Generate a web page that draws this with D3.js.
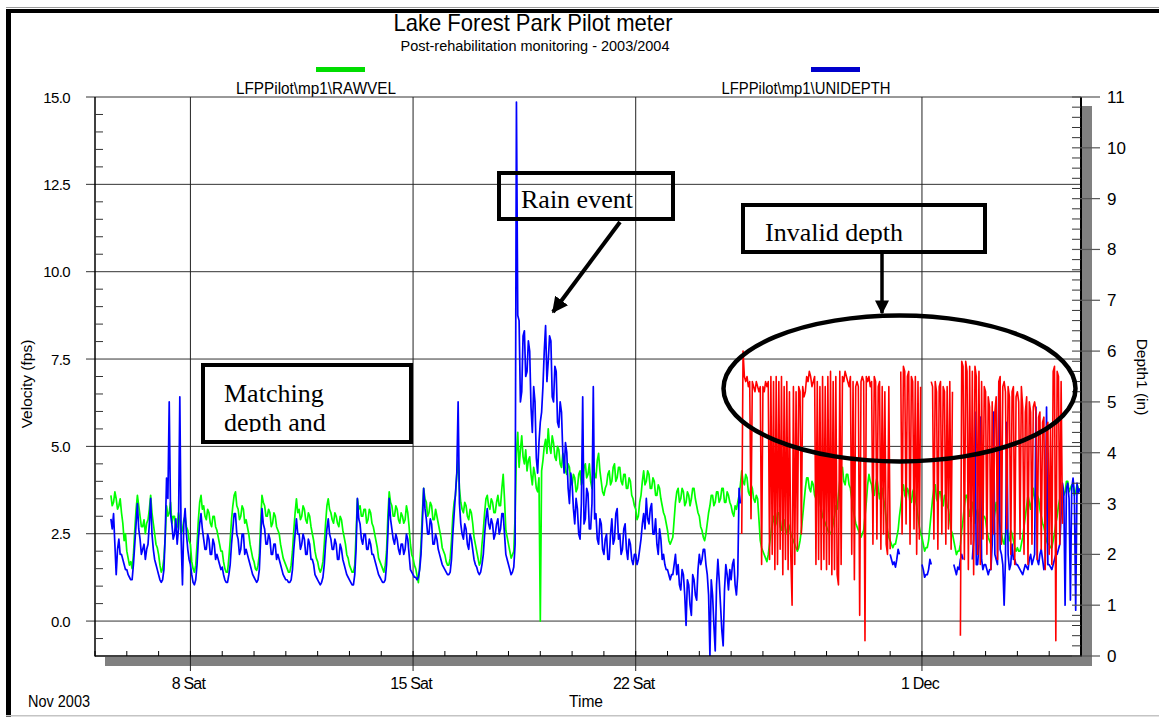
<!DOCTYPE html>
<html>
<head>
<meta charset="utf-8">
<script src="https://cdn.jsdelivr.net/npm/d3@7"></script>
<style>
  body { margin: 0; background: #fff; }
  svg { display: block; }
  text { font-family: "Liberation Sans", Arial, sans-serif; fill: #000; }
  .note { font-family: "Liberation Serif", "Times New Roman", serif; font-size: 26px; }
</style>
</head>
<body>
<svg id="chart" width="1159" height="717"></svg>
<script>
// ---- series: hourly samples starting 5 Nov 2003 12:00 ----
const sampleStart = Date.UTC(2003, 10, 5, 12);
const sampleStepHours = 1;
const _ = null;

// RAWVEL, velocity in ft/s (one row per day, 00:00..23:00)
const velocity = [
  3.6, 3.3, 3.4, 3.7, 3.5, 3.2, 3.3, 3.5, 3.1, 2.8, 2.3, 2.5,                                            // 5 Nov 12-23
  2.0, 1.8, 1.6, 1.7, 1.5, 1.9, 2.6, 3.2, 3.6, 3.3, 3.0, 2.7, 2.7, 2.9, 2.5, 2.8, 2.9, 3.2, 3.6, 3.1, 2.8, 2.5, 2.2, 2.1, // 6 Nov
  1.9, 1.6, 1.4, 1.5, 1.8, 2.4, 3.3, 3.0, 3.1, 3.4, 2.8, 3.0, 3.0, 2.6, 2.7, 3.1, 2.9, 2.5, 2.6, 2.9, 3.0, 2.7, 2.6, 2.3, // 7 Nov
  2.2, 1.7, 1.5, 1.4, 1.6, 2.2, 2.9, 3.4, 3.6, 3.2, 3.3, 3.0, 2.9, 3.2, 3.1, 2.8, 2.7, 3.0, 3.0, 2.7, 2.6, 2.4, 2.2, 2.0, // 8 Nov
  2.0, 1.7, 1.5, 1.4, 1.4, 1.8, 2.3, 2.9, 3.3, 3.6, 3.7, 3.3, 3.2, 2.9, 3.0, 3.3, 3.2, 2.8, 2.9, 2.7, 2.5, 2.2, 2.0, 1.8, // 9 Nov
  1.7, 1.5, 1.45, 1.6, 1.9, 2.8, 3.6, 3.4, 3.3, 3.0, 3.0, 3.2, 3.1, 2.7, 2.8, 3.1, 3.0, 2.7, 2.6, 2.5, 2.2, 2.0, 1.8, 1.7, // 10 Nov
  1.6, 1.5, 1.4, 1.4, 1.6, 2.0, 2.6, 3.1, 3.5, 3.1, 3.2, 2.9, 3.0, 3.3, 3.2, 2.9, 2.8, 3.1, 3.0, 2.7, 2.5, 2.3, 2.0, 1.8, // 11 Nov
  1.7, 1.5, 1.4, 1.5, 1.7, 2.2, 2.8, 3.3, 3.5, 3.2, 3.1, 2.9, 2.8, 3.1, 3.0, 2.8, 2.7, 3.0, 2.9, 2.6, 2.4, 2.2, 1.9, 1.8, // 12 Nov
  1.6, 1.5, 1.4, 1.4, 1.6, 2.5, 3.5, 3.2, 3.3, 3.0, 3.0, 3.2, 3.2, 2.8, 2.9, 3.2, 3.1, 2.8, 2.7, 2.5, 2.3, 2.1, 1.8, 1.7, // 13 Nov
  1.6, 1.5, 1.4, 1.6, 2.0, 3.0, 3.7, 3.4, 3.3, 3.0, 3.0, 3.3, 3.2, 2.9, 2.8, 3.1, 3.0, 2.8, 2.9, 3.3, 3.1, 2.7, 2.2, 1.9, // 14 Nov
  1.8, 1.6, 1.5, 1.3, 1.1, 1.6, 2.2, 3.1, 3.8, 3.5, 3.4, 3.0, 3.1, 3.4, 3.3, 2.9, 2.9, 3.2, 3.0, 2.8, 2.6, 2.4, 2.1, 2.0, // 15 Nov
  1.9, 1.7, 1.6, 1.6, 1.8, 2.3, 3.0, 3.4, 3.6, 4.2, 4.6, 3.8, 3.4, 3.2, 3.1, 3.4, 3.3, 3.0, 2.9, 3.2, 3.1, 2.8, 2.4, 2.2, // 16 Nov
  2.0, 1.8, 1.6, 1.7, 2.2, 2.6, 3.1, 3.5, 3.6, 3.3, 3.2, 3.5, 3.4, 3.1, 3.1, 3.4, 3.6, 3.3, 3.3, 3.8, 4.2, 3.5, 2.6, 2.4, // 17 Nov
  2.2, 2.0, 1.8, 1.9, 2.0, 3.0, 4.8, 5.4, 4.4, 4.9, 5.3, 4.7, 4.5, 4.9, 4.3, 4.6, 4.7, 4.2, 3.9, 4.4, 4.2, 3.8, 3.7, 4.1, // 18 Nov
  0.0, 4.3, 4.6, 5.0, 5.2, 4.8, 5.5, 5.0, 4.8, 5.3, 5.1, 4.7, 4.6, 5.0, 4.9, 4.5, 4.4, 4.8, 4.7, 4.3, 4.2, 4.5, 4.4, 4.0, // 19 Nov
  3.9, 4.2, 4.1, 3.7, 3.8, 4.2, 4.3, 3.9, 4.0, 4.4, 4.5, 4.1, 4.2, 4.5, 4.0, 3.8, 4.4, 4.2, 4.1, 4.6, 4.8, 4.3, 4.0, 3.7, // 20 Nov
  3.6, 3.8, 3.9, 4.2, 4.3, 3.9, 4.0, 4.4, 4.5, 4.0, 4.1, 4.4, 4.4, 4.0, 3.9, 4.2, 4.2, 3.8, 3.8, 4.1, 4.0, 3.6, 3.5, 3.3, // 21 Nov
  3.2, 2.9, 3.0, 3.4, 3.6, 4.0, 4.3, 3.9, 4.0, 4.3, 4.2, 3.8, 3.8, 4.1, 4.0, 3.6, 3.6, 3.9, 3.8, 3.5, 3.3, 3.1, 3.0, 2.8, // 22 Nov
  2.6, 2.3, 2.2, 2.3, 2.4, 2.9, 3.4, 3.7, 3.8, 3.4, 3.5, 3.8, 3.7, 3.3, 3.4, 3.7, 3.6, 3.3, 3.5, 3.8, 3.8, 3.5, 3.3, 3.1, // 23 Nov
  3.0, 2.7, 2.6, 2.4, 2.3, 2.5, 2.8, 3.1, 3.3, 3.6, 3.6, 3.3, 3.4, 3.7, 3.7, 3.4, 3.5, 3.8, 3.8, 3.4, 3.4, 3.7, 3.6, 3.4, // 24 Nov
  3.3, 3.1, 3.0, 3.3, 3.2, 3.4, 3.6, 3.9, 4.3, 4.0, 3.9, 4.2, 4.1, 3.7, 3.6, 3.9, 3.8, 3.5, 3.4, 3.6, 3.5, 2.9, 2.3, 2.1, // 25 Nov
  2.0, 1.9, 1.8, 1.7, 1.9, 2.2, 2.5, 2.8, 3.0, 2.7, 2.8, 3.1, 3.1, 2.7, 2.6, 2.9, 2.9, 2.6, 2.5, 2.8, 2.7, 2.5, 2.4, 2.3, // 26 Nov
  2.2, 2.1, 2.0, 2.1, 2.3, 2.6, 3.0, 3.4, 3.8, 4.1, 4.1, 3.8, 3.7, 4.0, 3.9, 3.6, 3.5, 3.8, 3.7, 3.4, 3.2, 3.0, 2.9, 2.8, // 27 Nov
  2.7, 2.6, 2.5, 2.5, 2.6, 2.8, 3.0, 3.3, 3.2, 3.6, 4.0, 4.3, 4.4, 4.0, 3.9, 4.2, 4.2, 3.9, 3.8, 3.5, 3.2, 3.0, 2.8, 2.7, // 28 Nov
  2.6, 2.5, 2.4, 2.5, 2.6, 3.0, 3.4, 3.9, 4.2, 4.0, 3.9, 3.6, 3.6, 3.9, 4.1, 3.8, 3.5, 3.7, 3.8, 3.5, 3.3, 2.9, 2.6, 2.4, // 29 Nov
  2.3, 2.2, 2.1, 2.2, 2.2, 2.4, 2.6, 3.0, 3.3, 3.7, 3.9, 3.6, 3.5, 3.8, 3.7, 3.4, 3.4, 3.7, 3.8, 3.5, 3.3, 3.0, 2.7, 2.5, // 30 Nov
  2.4, 2.2, 2.0, 2.1, 2.1, 2.3, 2.7, 3.1, 3.5, 3.8, 3.9, 3.5, 3.4, 3.7, 3.7, 3.4, 3.3, 3.6, 3.6, 3.3, 3.2, 2.9, 2.6, 2.5, // 1 Dec
  2.3, 2.1, 1.9, 2.0, 2.0, 2.2, 2.6, 2.9, 3.3, 3.6, 3.6, 3.2, 3.0, 3.3, 3.4, 3.0, 2.8, 3.1, 3.2, 2.9, 2.7, 2.9, 3.0, 3.0, // 2 Dec
  2.9, 2.6, 2.4, 2.3, 2.2, 2.4, 2.8, 3.1, 3.4, 3.1, 2.9, 2.7, 2.5, 2.3, 2.2, 2.5, 2.6, 2.4, 2.3, 2.6, 2.5, 2.3, 2.1, 2.0, // 3 Dec
  2.1, 2.0, 2.0, 2.2, 2.4, 2.7, 3.0, 3.3, 3.6, 3.4, 3.2, 3.5, 3.8, 3.5, 3.3, 3.6, 3.5, 3.2, 3.0, 2.8, 2.7, 2.5, 2.3, 2.2, // 4 Dec
  2.2, 2.1, 2.1, 2.3, 2.5, 2.8, 3.0, 3.3, 3.5, 3.7, 3.9, 3.6, 3.7, 4.0, 4.0, 3.7, 3.8, 3.9, 3.9, 3.6, 3.7, 3.9, 3.8, 3.7  // 5 Dec
];

// UNIDEPTH, depth in inches (null = reading rejected)
const depth = [
  2.7, 2.5, 2.8, 2.2, 1.6, 2.1, 2.3, 2.0, 2.0, 1.9, 1.8, 1.7,                                            // 5 Nov 12-23
  1.7, 1.6, 1.55, 1.5, 1.5, 1.8, 2.2, 2.6, 3.0, 2.5, 2.3, 2.0, 2.1, 2.2, 1.9, 2.1, 2.2, 2.6, 3.1, 2.4, 2.1, 1.9, 1.8, 1.7, // 6 Nov
  1.6, 1.5, 1.45, 1.5, 1.7, 2.4, 3.5, 3.1, 5.0, 2.8, 2.6, 2.3, 2.4, 2.7, 2.2, 2.5, 5.1, 2.3, 1.4, 2.6, 2.9, 2.4, 2.1, 1.9, // 7 Nov
  1.8, 1.6, 1.45, 1.4, 1.5, 1.8, 2.3, 2.6, 2.8, 2.5, 2.3, 2.1, 2.1, 2.4, 2.3, 2.0, 2.0, 2.3, 2.2, 1.9, 2.0, 1.9, 1.8, 1.7, // 8 Nov
  1.75, 1.6, 1.5, 1.45, 1.45, 1.6, 1.8, 2.2, 2.5, 2.8, 2.8, 2.4, 2.3, 2.0, 2.1, 2.4, 2.4, 2.0, 2.1, 2.0, 1.9, 1.8, 1.7, 1.6, // 9 Nov
  1.55, 1.5, 1.45, 1.5, 1.7, 2.3, 2.9, 2.6, 2.5, 2.2, 2.2, 2.4, 2.3, 2.0, 2.0, 2.2, 2.2, 1.9, 2.0, 1.9, 1.8, 1.7, 1.6, 1.55, // 10 Nov
  1.5, 1.5, 1.45, 1.45, 1.5, 1.7, 2.1, 2.4, 2.7, 2.4, 2.4, 2.1, 2.2, 2.4, 2.3, 2.0, 2.0, 2.3, 2.2, 1.9, 1.9, 1.8, 1.6, 1.55, // 11 Nov
  1.5, 1.45, 1.4, 1.45, 1.55, 1.8, 2.2, 2.5, 2.7, 2.4, 2.3, 2.1, 2.1, 2.3, 2.2, 1.9, 1.9, 2.2, 2.1, 1.9, 1.8, 1.7, 1.6, 1.55, // 12 Nov
  1.5, 1.45, 1.4, 1.4, 1.6, 2.1, 3.1, 2.7, 2.6, 2.3, 2.2, 2.4, 2.4, 2.1, 2.1, 2.3, 2.2, 2.0, 2.0, 1.9, 1.8, 1.7, 1.6, 1.55, // 13 Nov
  1.5, 1.45, 1.45, 1.5, 1.8, 2.4, 3.1, 2.7, 2.5, 2.3, 2.2, 2.4, 2.3, 2.1, 2.0, 2.2, 2.2, 2.0, 2.1, 2.4, 2.3, 2.0, 1.7, 1.65, // 14 Nov
  1.6, 1.55, 1.55, 1.5, 1.55, 1.7, 2.0, 2.6, 3.3, 2.9, 2.7, 2.4, 2.4, 2.7, 2.6, 2.2, 2.2, 2.4, 2.3, 2.1, 2.0, 1.9, 1.8, 1.75, // 15 Nov
  1.7, 1.65, 1.6, 1.6, 1.65, 1.9, 2.4, 2.8, 3.2, 3.6, 5.0, 3.0, 2.6, 2.4, 2.3, 2.6, 2.5, 2.2, 2.1, 2.4, 2.3, 2.1, 1.9, 1.8, // 16 Nov
  1.75, 1.65, 1.6, 1.65, 1.8, 2.0, 2.4, 2.7, 2.9, 2.6, 2.5, 2.7, 2.6, 2.3, 2.4, 2.6, 2.7, 2.4, 2.5, 2.8, 2.8, 2.4, 2.0, 1.9, // 17 Nov
  1.8, 1.7, 1.6, 1.65, 1.75, 2.2, 10.9, 6.7, 6.6, 5.0, 5.2, 6.3, 6.4, 5.5, 5.6, 6.2, 6.0, 4.9, 4.4, 5.3, 5.0, 3.9, 3.6, 4.2, // 18 Nov
  4.6, 4.8, 5.3, 6.0, 6.5, 5.4, 5.8, 6.3, 6.2, 5.1, 5.0, 5.7, 5.6, 4.6, 4.5, 5.0, 4.8, 4.0, 3.6, 4.2, 4.0, 3.3, 3.0, 3.6, // 19 Nov
  3.4, 2.9, 2.6, 3.1, 2.9, 2.4, 2.3, 3.0, 5.1, 2.6, 2.7, 3.3, 3.2, 2.5, 2.5, 3.0, 5.3, 2.7, 2.8, 2.3, 2.2, 2.7, 2.6, 2.1, // 20 Nov
  2.0, 2.3, 2.4, 1.9, 1.9, 2.4, 2.7, 2.2, 2.3, 2.8, 2.9, 2.3, 2.4, 2.0, 2.1, 2.5, 2.6, 2.1, 1.9, 2.3, 2.2, 1.9, 1.8, 2.0, // 21 Nov
  2.0, 1.8, 1.9, 2.1, 2.3, 2.6, 2.8, 2.5, 3.1, 2.7, 2.6, 2.9, 3.0, 2.4, 2.4, 2.7, 2.2, 2.0, 2.5, 2.3, 1.9, 2.0, 1.8, 1.7, // 22 Nov
  1.7, 1.6, 1.5, 1.6, 1.6, 1.8, 2.0, 1.6, 1.8, 1.4, 1.3, 1.7, 1.6, 1.2, 0.6, 1.5, 1.4, 1.0, 0.8, 1.6, 1.5, 1.2, 1.1, 1.7, // 23 Nov
  2.0, 1.8, 1.9, 2.1, 2.1, 1.8, 1.6, 1.2, 0.0, 1.5, 1.2, 0.6, 0.1, 1.4, 1.9, 1.5, 1.0, 0.5, 0.2, 1.3, 1.8, 1.6, 1.3, 1.7, // 24 Nov
  1.5, 1.8, 1.9, 1.4, 1.2, 1.6, 3.3, 3.0, _, _, _, _, _, _, _, _, _, _, _, _, _, _, _, _,                  // 25 Nov
  _, _, _, _, _, _, _, _, _, _, _, _, _, _, _, _, _, _, _, _, _, _, _, _,                                  // 26 Nov
  _, _, _, _, _, _, _, _, _, _, _, _, _, _, _, _, _, _, _, _, _, _, _, _,                                  // 27 Nov
  _, _, _, _, _, _, _, _, _, _, _, _, _, _, _, _, _, _, _, _, _, _, _, _,                                  // 28 Nov
  _, _, _, _, _, _, _, _, _, _, _, _, _, _, _, _, _, _, _, _, _, _, _, _,                                  // 29 Nov
  2.0, 1.9, 1.8, 1.85, 1.75, 1.9, 2.1, 2.0, _, _, _, _, _, _, _, _, _, _, _, _, _, _, _, _,                // 30 Nov
  1.8, 1.7, 1.55, 1.6, 1.6, 1.7, 1.9, 1.8, _, _, _, _, _, _, _, _, _, _, _, _, _, _, _, _,                 // 1 Dec
  1.8, 1.7, 1.6, 1.75, 1.7, 1.9, 2.0, 1.9, _, _, _, _, _, _, 1.9, 2.3, 4.8, 1.8, 1.8, 2.2, 4.7, 1.9, 1.7, 1.8, // 2 Dec
  1.8, 1.7, 1.6, 1.7, 1.7, 2.2, 4.8, 2.0, 1.9, 1.8, 5.4, 2.1, 2.0, 1.8, 1.0, 1.9, 4.6, 2.0, 1.7, 1.8, 2.2, 1.9, 1.9, 1.8, // 3 Dec
  1.8, 1.75, 1.7, 1.65, 1.6, 1.7, 1.8, 1.75, 1.7, 1.9, 2.0, 1.8, 1.9, 2.0, 4.9, 1.9, 1.8, 2.0, 2.1, 1.9, 1.7, 1.8, 4.9, 1.8, // 4 Dec
  1.8, 1.75, 1.7, 1.8, 1.9, 2.0, 2.0, 2.1, 2.2, 2.8, 3.4, 3.2, 1.0, 3.3, 3.4, 3.1, 1.1, 3.3, 3.5, 3.2, 0.9, 3.4, 3.2, 3.3  // 5 Dec
];

// Depth readings flagged invalid: hourly from 25 Nov 2003 08:00
const invalidStart = Date.UTC(2003, 10, 25, 8);
const invalidStepHours = 1;
const invalidDepth = [
  2.4, 6.0, 5.5, 5.4, 5.5, 5.3, 5.4, 2.7, 5.4, 5.3, 5.2, 5.4, 5.3, 5.2, 5.3, 1.8,                         // 25 Nov 08-23
  5.3, 5.2, 5.4, 5.3, 5.4, 1.9, 5.5, 2.0, 5.4, 1.7, 5.5, 1.8, 5.4, 2.1, 5.5, 1.6, 5.3, 1.9, 5.4, 1.7, 5.2, 2.0, 1.0, 5.3, // 26 Nov
  1.8, 5.2, 2.1, 5.3, 5.2, 2.4, 5.3, 5.1, 5.2, 5.5, 5.4, 5.6, 5.5, 5.3, 5.4, 5.5, 1.8, 5.4, 1.9, 5.3, 1.7, 5.5, 1.9, 5.3, // 27 Nov
  1.7, 5.5, 1.8, 5.6, 1.6, 5.4, 1.7, 5.5, 1.6, 1.4, 5.6, 1.8, 5.5, 5.4, 5.6, 5.5, 5.4, 5.3, 5.5, 2.0, 5.4, 1.5, 5.3, 5.4, // 28 Nov
  5.3, 0.8, 5.4, 5.5, 5.4, 0.3, 5.5, 5.4, 5.5, 5.3, 5.4, 2.2, 5.5, 5.4, 2.3, 5.3, 5.4, 2.1, 5.3, 2.4, 5.2, 2.2, 2.0, 5.3, // 29 Nov
  2.1, _, _, _, _, _, _, _, 5.6, 2.4, 5.7, 5.6, 2.6, 5.5, 5.6, 2.2, 5.5, 5.4, 2.5, 5.5, 2.0, 5.4, 2.3, 5.3,                 // 30 Nov
  _, _, _, _, _, _, _, 5.4, 5.3, 2.3, 5.4, 5.2, 2.1, 5.3, 5.4, 2.4, 5.3, 5.2, 2.2, 5.3, 2.5, 5.4, 2.1, 5.2,                // 1 Dec
  _, _, _, _, _, 0.4, 5.8, 5.7, 1.9, 5.8, 5.6, 1.7, 5.7, 2.2, 5.6, 1.6, 5.7, 5.5, 2.0, 5.6, 1.8, 5.4, 2.3, 5.3,            // 2 Dec
  5.2, 2.0, 5.1, 4.9, 1.7, 5.0, 2.4, 4.8, 5.1, 1.9, 5.4, 5.5, 2.2, 5.3, 5.4, 5.2, 2.5, 5.3, 5.1, 2.0, 5.2, 5.3, 1.8, 5.1, // 3 Dec
  5.2, 5.0, 2.3, 5.3, 4.9, 2.0, 4.8, 5.1, 1.8, 5.0, 4.8, 2.2, 4.9, 5.0, 4.8, 1.9, 4.7, 4.8, 2.1, 4.6, 4.7, 1.7, 4.5, 4.6, // 4 Dec
  2.0, 4.5, 1.8, 5.6, 5.7, 0.3, 5.6, 5.5, 2.2, 5.4, 2.6                                                   // 5 Dec 00-10
];

const seriesNames = ["LFPPilot\\mp1\\RAWVEL", "LFPPilot\\mp1\\UNIDEPTH"];
const seriesColors = ["#00ff00", "#0000ff"];
const invalidColor = "#ff0000";

const timeDomain = [Date.UTC(2003, 10, 5), Date.UTC(2003, 11, 6)];
const weekTicks = [Date.UTC(2003, 10, 8), Date.UTC(2003, 10, 15), Date.UTC(2003, 10, 22), Date.UTC(2003, 11, 1)];
const weekLabels = ["8 Sat", "15 Sat", "22 Sat", "1 Dec"];
const velTicks = [0, 2.5, 5, 7.5, 10, 12.5, 15];
const depthTicks = [0, 1, 2, 3, 4, 5, 6, 7, 8, 9, 10, 11];

// ---- layout ----
const P = { left: 95, right: 1081, top: 97, bottom: 656 };
const HOUR = 3600 * 1000;

const svg = d3.select("#chart");
const x = d3.scaleUtc().domain(timeDomain).range([P.left, P.right]);
const yVel = d3.scaleLinear().domain([-1, 15]).range([P.bottom, P.top]);
const yDep = d3.scaleLinear().domain([0, 11]).range([P.bottom, P.top]);

// page frame
svg.append("rect").attr("x", 6).attr("y", 7).attr("width", 1153).attr("height", 1).attr("fill", "#9a9a9a");
svg.append("rect").attr("x", 6).attr("y", 9).attr("width", 1153).attr("height", 4).attr("fill", "#000");
svg.append("rect").attr("x", 6).attr("y", 9).attr("width", 5).attr("height", 708).attr("fill", "#000");
svg.append("rect").attr("x", 6).attr("y", 715).attr("width", 1153).attr("height", 1.5).attr("fill", "#c4c4c4");

// titles
svg.append("text").attr("x", 533).attr("y", 31).attr("text-anchor", "middle")
  .attr("font-size", 24).attr("textLength", 279).attr("lengthAdjust", "spacingAndGlyphs")
  .text("Lake Forest Park Pilot meter");
svg.append("text").attr("x", 535).attr("y", 51).attr("text-anchor", "middle")
  .attr("font-size", 15).attr("textLength", 269).attr("lengthAdjust", "spacingAndGlyphs")
  .text("Post-rehabilitation monitoring - 2003/2004");

// legend
const legendPos = [{ sx: 316, lx: 316, lw: 160 }, { sx: 811, lx: 806, lw: 169 }];
legendPos.forEach((p, i) => {
  svg.append("rect").attr("x", p.sx).attr("y", 67).attr("width", 49).attr("height", 5)
    .attr("fill", i === 0 ? "#00dd00" : "#0000cc");
  svg.append("text").attr("x", p.lx).attr("y", 94).attr("text-anchor", "middle")
    .attr("font-size", 16).attr("textLength", p.lw).attr("lengthAdjust", "spacingAndGlyphs")
    .text(seriesNames[i]);
});

// drop shadows of the plot frame
svg.append("rect").attr("x", 105).attr("y", 657).attr("width", 987).attr("height", 9).attr("fill", "#808080");
svg.append("rect").attr("x", 1082).attr("y", 106).attr("width", 10).attr("height", 560).attr("fill", "#808080");

// horizontal grid (velocity majors) with outward ticks
const grid = svg.append("g");
grid.selectAll("line.h").data(velTicks).join("line")
  .attr("x1", P.left - 9).attr("x2", P.right)
  .attr("y1", d => yVel(d)).attr("y2", d => yVel(d))
  .attr("stroke", "#333").attr("stroke-width", 1);
// vertical grid at week boundaries
grid.selectAll("line.v").data(weekTicks).join("line")
  .attr("x1", d => x(d)).attr("x2", d => x(d))
  .attr("y1", P.top).attr("y2", 671)
  .attr("stroke", "#222").attr("stroke-width", 1);

// data
svg.append("clipPath").attr("id", "plotClip").append("rect")
  .attr("x", P.left).attr("y", P.top).attr("width", P.right - P.left).attr("height", P.bottom - P.top);
const dataG = svg.append("g").attr("clip-path", "url(#plotClip)");

const toPoints = (arr, start, stepH) => arr.map((v, i) => ({ t: new Date(start + i * stepH * HOUR), v }));
const velPts = toPoints(velocity, sampleStart, sampleStepHours);
const depPts = toPoints(depth, sampleStart, sampleStepHours);
const badPts = toPoints(invalidDepth, invalidStart, invalidStepHours);

const lineOf = y => d3.line().defined(d => d.v != null).x(d => x(d.t)).y(d => y(d.v));

dataG.append("path").datum(velPts).attr("d", lineOf(yVel))
  .attr("fill", "none").attr("stroke", seriesColors[0]).attr("stroke-width", 1.7).attr("stroke-linejoin", "round");
dataG.append("path").datum(depPts).attr("d", lineOf(yDep))
  .attr("fill", "none").attr("stroke", seriesColors[1]).attr("stroke-width", 1.7).attr("stroke-linejoin", "round");
dataG.append("path").datum(badPts).attr("d", lineOf(yDep))
  .attr("fill", "none").attr("stroke", invalidColor).attr("stroke-width", 1.6).attr("stroke-linejoin", "round");

// axes frame
const ax = svg.append("g").attr("stroke", "#000");
ax.append("line").attr("x1", P.left).attr("x2", P.left).attr("y1", P.top).attr("y2", P.bottom + 0.5).attr("stroke-width", 1.5);
ax.append("line").attr("x1", P.right).attr("x2", P.right).attr("y1", P.top).attr("y2", P.bottom + 0.5).attr("stroke-width", 2);
ax.append("line").attr("x1", P.left).attr("x2", P.right + 1).attr("y1", P.bottom).attr("y2", P.bottom).attr("stroke-width", 1.5);

// left minor ticks (every 0.5 fps)
const velMinor = d3.range(-0.5, 15, 0.5).filter(v => Math.abs(v / 2.5 - Math.round(v / 2.5)) > 1e-6);
ax.selectAll("line.vm").data(velMinor).join("line")
  .attr("x1", P.left).attr("x2", P.left + 8)
  .attr("y1", d => yVel(d)).attr("y2", d => yVel(d))
  .attr("stroke", "#333").attr("stroke-width", 1);

// right ticks: majors cross the axis, minors every 0.2 in inside
const depMinor = d3.range(0.2, 11, 0.2).filter(v => Math.abs(v - Math.round(v)) > 1e-6);
ax.selectAll("line.dm").data(depMinor).join("line")
  .attr("x1", P.right - 9).attr("x2", P.right)
  .attr("y1", d => yDep(d)).attr("y2", d => yDep(d))
  .attr("stroke", "#333").attr("stroke-width", 1);
ax.selectAll("line.dM").data(depthTicks).join("line")
  .attr("x1", P.right - 9).attr("x2", P.right + 19)
  .attr("y1", d => yDep(d)).attr("y2", d => yDep(d))
  .attr("stroke", "#555").attr("stroke-width", 1.2);

// bottom daily ticks
const dayTicks = x.ticks(d3.utcDay.every(1));
ax.selectAll("line.xd").data(dayTicks).join("line")
  .attr("x1", d => x(d)).attr("x2", d => x(d))
  .attr("y1", P.bottom - 5).attr("y2", P.bottom)
  .attr("stroke", "#000").attr("stroke-width", 1);

// tick labels
const fmtVel = d3.format(".1f");
svg.append("g").selectAll("text").data(velTicks).join("text")
  .attr("x", 70).attr("y", d => yVel(d) + 5.5).attr("text-anchor", "end")
  .attr("font-size", 15).attr("letter-spacing", -0.6)
  .text(d => fmtVel(d));
svg.append("g").selectAll("text").data(depthTicks).join("text")
  .attr("x", 1107).attr("y", d => yDep(d) + 6)
  .attr("font-size", 17)
  .text(d => d);
svg.append("g").selectAll("text").data(weekTicks).join("text")
  .attr("x", d => x(d) - 2).attr("y", 689).attr("text-anchor", "middle")
  .attr("font-size", 16).attr("letter-spacing", -0.8)
  .text((d, i) => weekLabels[i]);
svg.append("text").attr("x", 28).attr("y", 707).attr("font-size", 16)
  .attr("textLength", 62).attr("lengthAdjust", "spacingAndGlyphs").text("Nov 2003");
svg.append("text").attr("x", 586).attr("y", 707).attr("text-anchor", "middle").attr("font-size", 16)
  .attr("textLength", 34).attr("lengthAdjust", "spacingAndGlyphs").text("Time");

// axis titles
svg.append("text").attr("transform", "translate(32,384) rotate(-90)").attr("text-anchor", "middle")
  .attr("font-size", 15.5).text("Velocity (fps)");
svg.append("text").attr("transform", "translate(1137,377) rotate(90)").attr("text-anchor", "middle")
  .attr("font-size", 15.5).text("Depth1 (in)");

// ---- annotations ----
const notes = svg.append("g");
const defs = svg.append("defs");
defs.append("marker").attr("id", "head").attr("viewBox", "0 0 10 10")
  .attr("refX", 9).attr("refY", 5).attr("markerWidth", 4).attr("markerHeight", 4)
  .attr("markerUnits", "strokeWidth").attr("orient", "auto")
  .append("path").attr("d", "M0,0 L10,5 L0,10 Z").attr("fill", "#000");

function noteBox(id, bx, by, bw, bh, lines, tx, ty, lineGap, clipBottom) {
  notes.append("rect").attr("x", bx).attr("y", by).attr("width", bw).attr("height", bh)
    .attr("fill", "none").attr("stroke", "#000").attr("stroke-width", 4);
  defs.append("clipPath").attr("id", id).append("rect")
    .attr("x", bx).attr("y", by).attr("width", bw).attr("height", clipBottom - by);
  const t = notes.append("text").attr("class", "note").attr("clip-path", `url(#${id})`);
  lines.forEach((s, i) => t.append("tspan").attr("x", tx).attr("y", ty + i * lineGap).text(s));
}
noteBox("clipMatch", 203, 365, 208, 77, ["Matching", "depth and"], 224, 402, 29, 432);
noteBox("clipRain", 499, 173, 174, 46, ["Rain event"], 521, 208, 0, 219);
noteBox("clipInvalid", 743, 205, 242, 47, ["Invalid depth"], 765, 241, 0, 244);

notes.append("line").attr("x1", 620).attr("y1", 222).attr("x2", 553).attr("y2", 312)
  .attr("stroke", "#000").attr("stroke-width", 4).attr("marker-end", "url(#head)");
notes.append("line").attr("x1", 882).attr("y1", 254).attr("x2", 882).attr("y2", 313)
  .attr("stroke", "#000").attr("stroke-width", 3.5).attr("marker-end", "url(#head)");
notes.append("ellipse").attr("cx", 899.5).attr("cy", 388.5).attr("rx", 176).attr("ry", 73)
  .attr("fill", "none").attr("stroke", "#000").attr("stroke-width", 4.5);
</script>
</body>
</html>
